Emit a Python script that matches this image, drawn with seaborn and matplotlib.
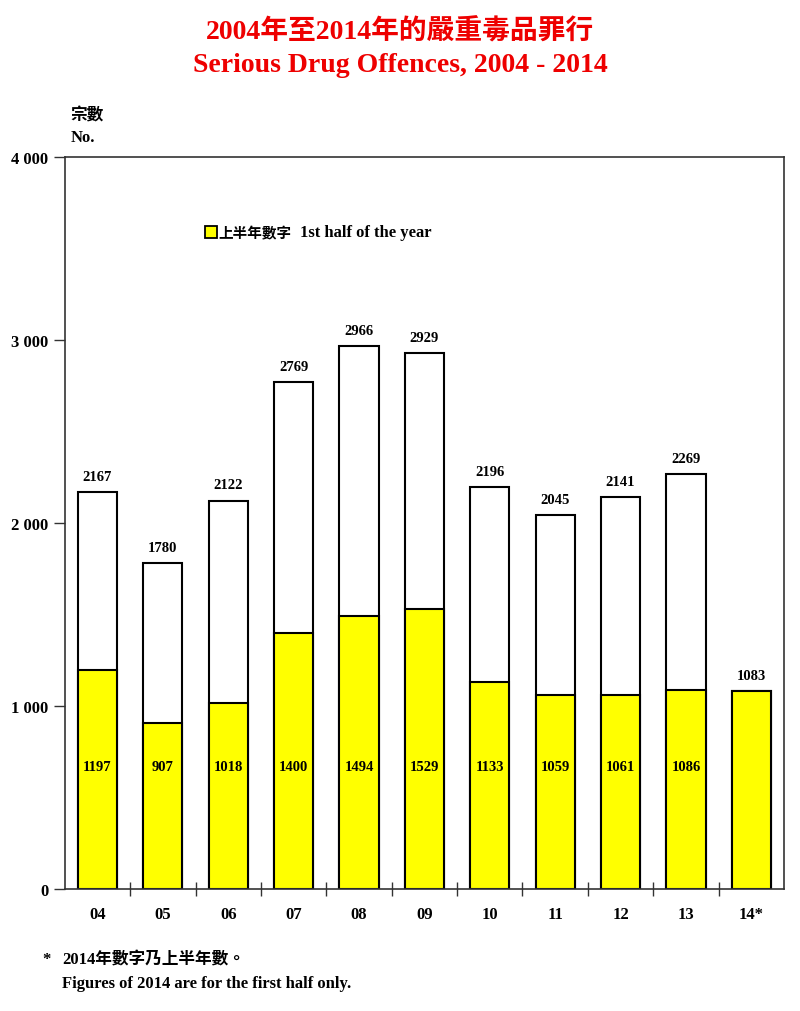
import matplotlib
matplotlib.use("Agg")
import matplotlib.pyplot as plt
import seaborn as sns
import pandas as pd
from matplotlib.ticker import FixedLocator, FuncFormatter
from matplotlib.font_manager import FontProperties

years = ["04", "05", "06", "07", "08", "09", "10", "11", "12", "13", "14*"]
totals = [2167, 1780, 2122, 2769, 2966, 2929, 2196, 2045, 2141, 2269, 1083]
first_half = [1197, 907, 1018, 1400, 1494, 1529, 1133, 1059, 1061, 1086, 1083]
yticks = [0, 1000, 2000, 3000, 4000]

sns.set_theme(style="white")
SERIF = ["Liberation Serif", "Noto Sans CJK TC", "DejaVu Sans"]
plt.rcParams["font.family"] = SERIF
plt.rcParams["text.color"] = "black"
plt.rcParams["xtick.color"] = "black"
plt.rcParams["ytick.color"] = "black"

df = pd.DataFrame({"year": years, "total": totals, "half": first_half})

fig = plt.figure(figsize=(8, 10.12), dpi=100)
ax = fig.add_axes([0.081, 0.1206, 0.899, 0.7233])

sns.barplot(data=df, x="year", y="total", color="white", edgecolor="black",
            linewidth=1.5, width=0.6, ax=ax, saturation=1)
sns.barplot(data=df, x="year", y="half", color="#FFFF00", edgecolor="black",
            linewidth=1.5, width=0.6, ax=ax, saturation=1)

ax.set_ylim(0, 4000)
ax.set_xlim(-0.5, len(years) - 0.5)
ax.set_xlabel("")
ax.set_ylabel("")

# value labels
for i, (t, h) in enumerate(zip(totals, first_half)):
    ax.text(i, t + 50, f"{t}", ha="center", va="bottom", fontsize=10.5,
            fontweight="bold", family=SERIF, color="black")
    if i < len(years) - 1:
        ax.text(i, 670, f"{h}", ha="center", va="center", fontsize=10.5,
                fontweight="bold", family=SERIF, color="black")

# axes styling
for s in ax.spines.values():
    s.set_color("#333333")
    s.set_linewidth(1.2)
ax.yaxis.set_major_locator(FixedLocator(yticks))
ax.yaxis.set_major_formatter(FuncFormatter(lambda v, p: f"{int(v):,}".replace(",", " ")))
ax.tick_params(axis="y", direction="out", length=8, width=1, color="#333333",
               left=True, labelsize=12, pad=4, labelcolor="black")
ax.tick_params(axis="x", which="major", length=0, labelsize=12, pad=12, labelcolor="black")
ax.set_xticks(range(len(years)))
ax.set_xticks([i + 0.5 for i in range(len(years) - 1)], minor=True)
ax.tick_params(axis="x", which="minor", direction="inout", length=10, width=1,
               color="#333333", bottom=True)
for lab in ax.get_xticklabels() + ax.get_yticklabels():
    lab.set_fontweight("bold")
    lab.set_family(SERIF)
ax.grid(False)

# legend
ly = 0.8975
ax.plot([0.203], [ly], marker="s", markersize=8.5, markerfacecolor="#FFFF00",
        markeredgecolor="black", markeredgewidth=1.3, transform=ax.transAxes,
        clip_on=False, linestyle="none")
ax.text(0.213, ly, "上半年數字", transform=ax.transAxes, ha="left", va="center",
        fontproperties=FontProperties(family=["Noto Sans CJK TC"], weight="bold", size=10.5),
        color="black")
ax.text(0.327, ly, "1st half of the year", transform=ax.transAxes, ha="left",
        va="center", fontproperties=FontProperties(family=SERIF, weight="bold", size=12),
        color="black")

# titles
fig.text(0.5, 0.9605, "2004年至2014年的嚴重毒品罪行", ha="center", va="baseline",
         fontsize=20, color="#EE0000", fontweight="bold", family=SERIF)
fig.text(0.5, 0.9289, "Serious Drug Offences, 2004 - 2014", ha="center", va="baseline",
         fontsize=20, color="#EE0000", fontweight="bold", family=SERIF)

# y axis unit labels
fig.text(0.088, 0.886, "宗數", ha="left", va="center", fontsize=12,
         fontweight="bold", family=["Noto Sans CJK TC"], color="black")
fig.text(0.088, 0.864, "No.", ha="left", va="center", fontsize=12,
         fontweight="bold", family=SERIF, color="black")

# footnote
fig.text(0.053, 0.051, "*", ha="left", va="center", fontsize=12, fontweight="bold",
         family=SERIF, color="black")
fig.text(0.078, 0.051, "2014年數字乃上半年數。", ha="left", va="center", fontsize=12,
         fontweight="bold", family=SERIF, color="black")
fig.text(0.078, 0.028, "Figures of 2014 are for the first half only.", ha="left",
         va="center", fontsize=12, fontweight="bold", family=SERIF, color="black")

fig.savefig("out.png", dpi=100, facecolor="white")
